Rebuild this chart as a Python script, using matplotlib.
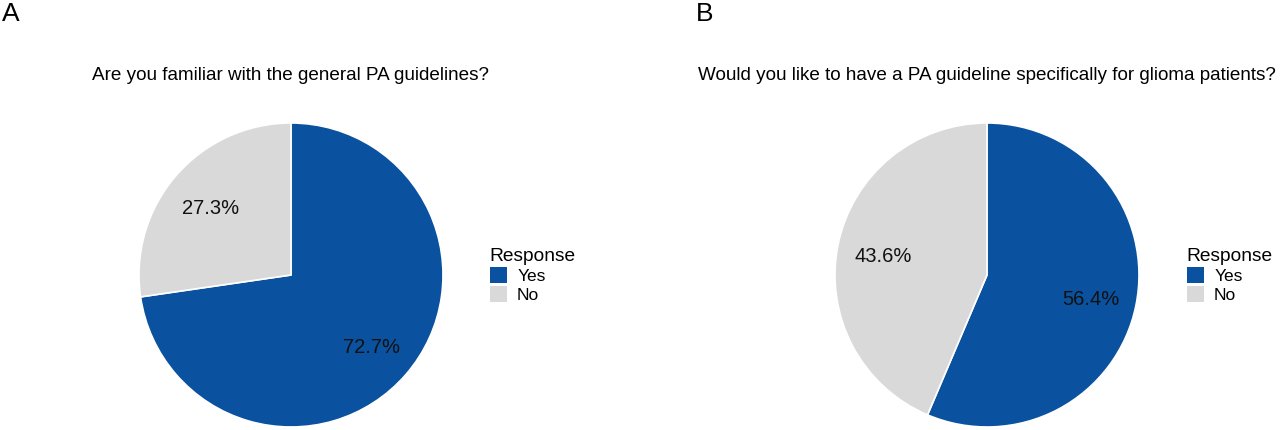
import matplotlib
matplotlib.use('Agg')
import matplotlib.pyplot as plt

plt.rcParams['font.family'] = ['Liberation Sans', 'DejaVu Sans']

labels = ['Yes', 'No']
pct_a = [72.7, 27.3]
pct_b = [56.4, 43.6]
title_a = 'Are you familiar with the general PA guidelines?'
title_b = 'Would you like to have a PA guideline specifically for glioma patients?'
colors = ['#0A529F', '#D9D9D9']

W, H = 1280, 430
fig = plt.figure(figsize=(12.8, 4.3), dpi=100)


def draw_panel(cx, letter, lx, title, vals, leg_x):
    r = 152
    ax = fig.add_axes([(cx - r) / W, (H - 275 - r) / H, 2 * r / W, 2 * r / H])
    wedges, texts = ax.pie(vals, colors=colors, startangle=90, counterclock=False,
                           labels=[f'{v:.1f}%' for v in vals], labeldistance=0.7,
                           wedgeprops=dict(edgecolor='white', linewidth=1.2),
                           textprops=dict(fontsize=14.5, ha='center', va='center',
                                          color='#111111'))
    # nudge the percent labels a little lower, like the original
    for t in texts:
        x, y = t.get_position()
        t.set_position((x, y - 0.02))
    ax.set_xlim(-1, 1)
    ax.set_ylim(-1, 1)
    ax.set_aspect('equal')
    fig.text(lx / W, 1 - 14 / H, letter, fontsize=19, ha='left', va='center')
    fig.text(cx / W, 1 - 75 / H, title, fontsize=13.6, ha='center', va='center')
    leg = fig.legend(wedges, labels, title='Response', loc='upper left',
                     bbox_to_anchor=(leg_x / W, 1 - 239 / H), frameon=False,
                     fontsize=12.5, title_fontsize=13.8, handlelength=0.98,
                     handleheight=1.04, handletextpad=0.6, labelspacing=0.12,
                     borderpad=0, alignment='left')
    for h in leg.legend_handles:
        h.set_edgecolor('none')


draw_panel(291, 'A', 2, title_a, pct_a, 481)
draw_panel(987, 'B', 696, title_b, pct_b, 1178)

fig.savefig('out.png', dpi=100, facecolor='white')
